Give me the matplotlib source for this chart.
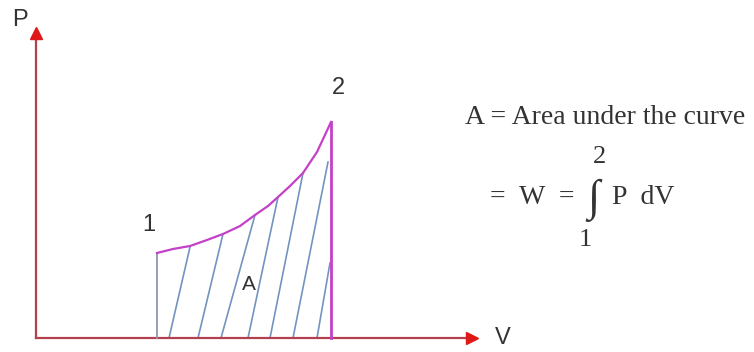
import matplotlib.pyplot as plt

# P-V process curve from state 1 to state 2
V_curve = [121, 137, 154, 171, 187, 204, 219, 232, 242, 254, 267, 281, 295]
P_curve = [85, 89, 92, 98, 104, 112, 123, 132, 141, 152, 165, 186, 216]

# hatch strokes under the curve: (V at bottom) -> (V, P at top)
hatch_V0 = [133, 162, 185, 212, 234, 257, 281]
hatch_V1 = [154, 187, 219, 242, 267, 292, 294]
hatch_P1 = [91, 104, 123, 141, 165, 176, 75]

V_max = 436
P_max = 307

axis_col = '#b4404f'
head_col = '#e01818'
curve_col = '#c440c8'
hatch_col = '#7394c0'
txt_col = '#333333'

fig = plt.figure(figsize=(7.54, 3.52), dpi=100)
ax = fig.add_axes([0, 0, 1, 1])
ax.set_xlim(-36, 718)
ax.set_ylim(-14, 338)
ax.axis('off')

# axes with arrowheads
ax.plot([0, 0], [0, P_max - 4], color=axis_col, lw=1.6, zorder=2)
ax.plot([0, V_max - 4], [0, 0], color=axis_col, lw=1.6, zorder=2)
ax.plot([0], [P_max - 2], marker='^', ms=9, color=head_col, zorder=3)
ax.plot([V_max], [0], marker='>', ms=9, color=head_col, zorder=3)

# hatching
for v0, v1, p1 in zip(hatch_V0, hatch_V1, hatch_P1):
    ax.plot([v0, v1], [0, p1], color=hatch_col, lw=1.2, zorder=1)

# left boundary, curve and right boundary
ax.plot([V_curve[0], V_curve[0]], [0, P_curve[0]], color='#8a98b4', lw=1.3, zorder=2)
ax.plot(V_curve, P_curve, color=curve_col, lw=1.6, zorder=2)
ax.plot([V_curve[-1], V_curve[-1]], [0, P_curve[-1]], color=curve_col, lw=2, zorder=2)

sans = 'Liberation Sans'
ax.text(-16, 318, 'P', fontsize=17, family=sans, color=txt_col, ha='center', va='center')
ax.text(467, 0, 'V', fontsize=17, family=sans, color=txt_col, ha='center', va='center')
ax.text(113, 113, '1', fontsize=17, family=sans, color=txt_col, ha='center', va='center')
ax.text(302, 250, '2', fontsize=17, family=sans, color=txt_col, ha='center', va='center')
ax.text(213, 54, 'A', fontsize=15, family=sans, color=txt_col, ha='center', va='center')

serif = 'Liberation Serif'
ax.text(429, 220, 'A = Area under the curve', fontsize=20, family=serif,
        color=txt_col, ha='left', va='center')
ax.text(454, 140, '=  W  =', fontsize=20, family=serif, color=txt_col, ha='left', va='center')
ax.text(557, 138, '\u222b', fontsize=32, family=serif, color=txt_col, ha='center', va='center')
ax.text(576, 140, 'P  dV', fontsize=20, family=serif, color=txt_col, ha='left', va='center')
ax.text(564, 181, '2', fontsize=19, family=serif, color=txt_col, ha='center', va='center')
ax.text(549, 98, '1', fontsize=19, family=serif, color=txt_col, ha='center', va='center')

fig.savefig('out.png', dpi=100, facecolor='white')
